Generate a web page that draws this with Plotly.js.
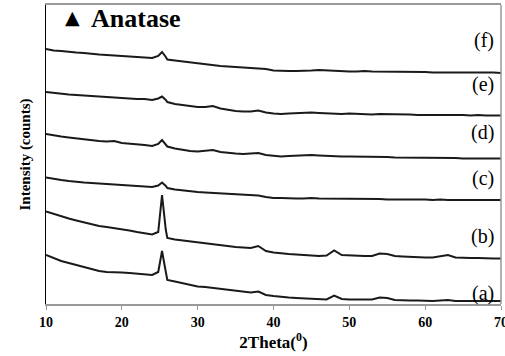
<!DOCTYPE html>
<html>
<head>
<meta charset="utf-8">
<script src="https://cdn.plot.ly/plotly-3.0.1.min.js"></script>
<style>html,body{margin:0;padding:0;background:#fff;}#chart{width:505px;height:356px;}</style>
</head>
<body>
<div id="chart"></div>
<script>
// 2Theta positions (degrees)
const twoTheta = [10,11,12,13,14,15,16,17,18,19,20,21,22,23,24,24.8,25.3,25.8,
  26,27,28,29,30,31,32,33,34,35,36,37,38,39,40,41,42,43,44,45,46,47,48,49,50,
  51,52,53,54,55,56,57,58,59,60,61,62,63,64,65,66,67,68,69,70];

// Intensity (arbitrary counts, stacked patterns as drawn)
const seriesA = [49,46,43,41,39,37,35,33,32,32,31.5,31,30.5,30,29,32,53,32,
  24,22.5,21,19.5,17.5,17,16,15,14,13,12,11.5,12.5,9,8,7,6.5,6,5.5,5,5,4.5,8.5,5,4.5,
  4.5,4,4.5,6.5,6,4,3.5,3.5,3.5,3,3,3.5,4,3,3,3,3,3,3,3];
const seriesB = [92.5,90,87.5,85.5,83.5,81.5,80,78,77,76,75,73.5,72,70.5,69.5,72,109,74,
  66,64.5,63.5,62.5,62,61,60,59,58,57,56.5,56,58,53,51.5,50.5,50,49.5,49,48.5,48,48.5,53.5,49,48.5,
  48,48,48,50.5,50,48,47.5,47,47,46.5,46.5,47.5,49,46.5,46,46,46,45.5,45.5,45.5];
const seriesC = [126.5,125,124,123,122,121.5,121,120.5,120,120,119,118.5,118,118,117,118.5,121.5,118,
  116,114.5,113.5,112.5,112,111.5,111,110.5,110,109.5,109,108.5,108.5,107,106,106,105.5,105.5,105.5,106,105.5,105.5,105,105,105.5,
  105.5,105,105,105,104.5,104.5,105,104.5,104.5,104.5,104,104.5,104,104,104,104,104,104,104,104];
const seriesD = [170,168.5,167.5,166.5,165.5,164.5,164,163,162.5,163,161,160.5,159.5,159,158,160,164,160,
  157.5,155.5,154,153,152.5,153,154,152,151,150.5,150,150.5,151,149,148,147.5,148,148.5,149,149,148.5,148,148,147.5,147.5,
  147.5,147,147,147,147,146.5,146.5,146.5,146,146,146,146,146,146,145.5,145.5,145.5,145.5,145.5,145.5];
const seriesE = [212,211,210.5,209.5,209,208.5,207.5,207,207,206.5,206,205.5,205,205,204,205.5,207.5,204,
  202,200,199,198,197,197,198,195.5,194,193,192.5,192.5,193.5,191.5,190.5,190,190.5,191,191,191.5,191,190.5,190,190,190.5,
  190,190,189.5,190,190,189.5,189.5,189.5,189,189,189,189.5,189,189,189,188.5,189,188.5,188.5,188.5];
const seriesF = [255,253.5,253,252,251.5,251,250,249.5,249,248.5,248,247.5,247,247,246,248,252,247,
  244.5,243.5,242.5,241.5,240.5,240,239,238,237.5,237,236.5,236,236,235,233.5,233,233,233,233,233.5,234,233.5,233,233,232.5,
  232.5,233,232.5,232.5,232,232,232,232,232,232,231.5,231.5,232,231.5,231.5,231.5,231.5,231.5,231.5,231];

const sampleLabels = ['(a)','(b)','(c)','(d)','(e)','(f)'];
const xTicks = [10,20,30,40,50,60,70];

const allSeries = [seriesA, seriesB, seriesC, seriesD, seriesE, seriesF];
const traces = allSeries.map((s, i) => ({
  x: twoTheta, y: s, type: 'scatter', mode: 'lines', name: sampleLabels[i],
  line: {color: '#1a1a1a', width: 2}, hoverinfo: 'skip'
}));

const labelY = [11, 68, 126, 172, 220, 264];
const serif = 'Liberation Serif';
const annotations = sampleLabels.map((t, i) => ({
  text: t, xref: 'paper', yref: 'y', x: 0.99, y: labelY[i], xanchor: 'right', yanchor: 'middle',
  showarrow: false, font: {family: serif, size: 20, color: '#000'}
}));
annotations.push({text: '▲', xref: 'paper', yref: 'paper', x: 0.037, y: 0.96, xanchor: 'left', yanchor: 'middle',
  showarrow: false, font: {family: 'DejaVu Sans', size: 19, color: '#000'}});
annotations.push({text: '<b>Anatase</b>', xref: 'paper', yref: 'paper', x: 0.094, y: 0.955, xanchor: 'left', yanchor: 'middle',
  showarrow: false, font: {family: serif, size: 26, color: '#000'}});

const layout = {
  width: 505, height: 356,
  margin: {l: 46, r: 4, t: 5, b: 52},
  paper_bgcolor: '#fff', plot_bgcolor: '#fff',
  showlegend: false,
  xaxis: {
    range: [10, 70], tickvals: xTicks, ticktext: xTicks.map(v => '<b>' + v + '</b>'),
    ticks: 'outside', ticklen: 4, tickcolor: '#999', tickwidth: 1,
    ticklabeloverflow: 'allow',
    showline: true, linecolor: '#999', linewidth: 2, mirror: true,
    showgrid: false, zeroline: false,
    tickfont: {family: serif, size: 14, color: '#000'},
    title: {text: '<b>2Theta(<sup>0</sup>)</b>', font: {family: serif, size: 17, color: '#000'}, standoff: 6}
  },
  yaxis: {
    range: [0, 299], showticklabels: false, ticks: '', showgrid: false, zeroline: false,
    showline: true, linecolor: '#000', linewidth: 1,
    title: {text: '<b>Intensity (counts)</b>', font: {family: serif, size: 15, color: '#000'}, standoff: 10}
  },
  shapes: [{type: 'line', xref: 'paper', yref: 'paper', x0: 1, x1: 1, y0: 0, y1: 1, line: {color: '#999', width: 1.5}}],
  annotations: annotations
};

Plotly.newPlot('chart', traces, layout, {displayModeBar: false, staticPlot: true});
</script>
</body>
</html>
